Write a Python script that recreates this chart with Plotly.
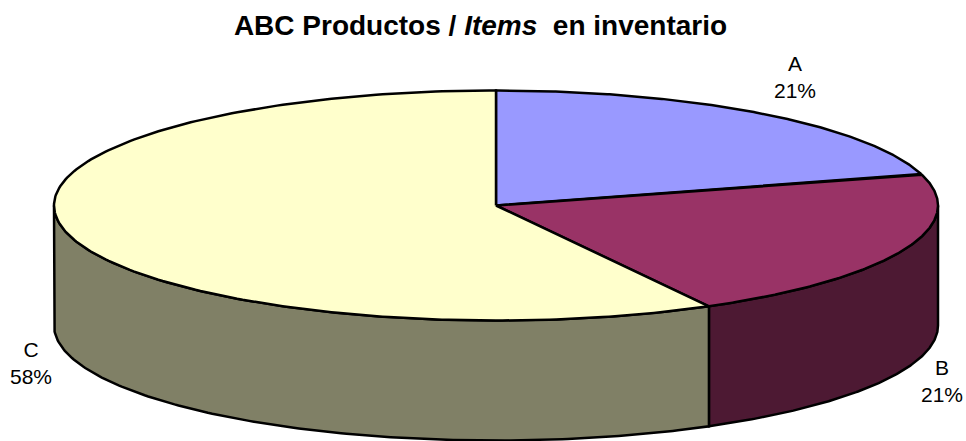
import numpy as np
import plotly.graph_objects as go

categories = ["A", "B", "C"]
values = [20.6, 21.4, 58.0]
top_colors = ["#9999FF", "#993366", "#FFFFCC"]
side_colors = ["#4D4D80", "#4D1933", "#808066"]
label_x = [795, 942, 31]
label_y = [79, 383, 365]
title_text = "<b>ABC Productos / <i>Items</i>  en inventario</b>"

CX, CY, RX, RY, DEPTH = 496, 205.5, 442, 115, 120
W, H = 966, 441


def ellipse(t, dy=0.0):
    return CX + RX * np.sin(t), CY + dy - RY * np.cos(t)


fig = go.Figure()
edges = np.concatenate([[0], np.cumsum(values)]) / sum(values) * 2 * np.pi
line = dict(color="black", width=2.5)

# Side wall: only the front half of the disc (pi/2 to 3pi/2) is visible
for i, cat in enumerate(categories):
    a = max(edges[i], np.pi / 2)
    b = min(edges[i + 1], 3 * np.pi / 2)
    if b <= a:
        continue
    t = np.linspace(a, b, 160)
    x1, y1 = ellipse(t)
    x2, y2 = ellipse(t[::-1], DEPTH)
    fig.add_trace(go.Scatter(
        x=np.r_[x1, x2, x1[0]], y=np.r_[y1, y2, y1[0]],
        mode="lines", fill="toself", fillcolor=side_colors[i], line=line,
        hoverinfo="skip", showlegend=False))

# Top face wedges
for i, cat in enumerate(categories):
    t = np.linspace(edges[i], edges[i + 1], 240)
    x, y = ellipse(t)
    fig.add_trace(go.Scatter(
        x=np.r_[CX, x, CX], y=np.r_[CY, y, CY],
        mode="lines", fill="toself", fillcolor=top_colors[i], line=line,
        name=cat, hoverinfo="name", showlegend=False))

# Data labels, percentages derived from the values
total = sum(values)
fig.add_trace(go.Scatter(
    x=label_x, y=label_y, mode="text",
    text=[f"{c}<br>{round(v / total * 100)}%" for c, v in zip(categories, values)],
    textfont=dict(family="Liberation Sans, Arial, sans-serif", size=21, color="black"),
    textposition="middle center", hoverinfo="skip", showlegend=False, cliponaxis=False))

fig.update_layout(
    width=W, height=H, autosize=False,
    margin=dict(l=0, r=0, t=0, b=0),
    paper_bgcolor="white", plot_bgcolor="white",
    xaxis=dict(range=[0, W], visible=False, fixedrange=True),
    yaxis=dict(range=[H, 0], visible=False, fixedrange=True),
    title=dict(text=title_text, x=480.5 / W, xanchor="center", y=1 - 25 / H, yanchor="middle",
               font=dict(family="Liberation Sans, Arial, sans-serif", size=28, color="black")),
)
fig.write_html("out.html", config=dict(displayModeBar=False),
               post_script="document.body.style.margin='0';document.body.style.overflow='hidden';")
